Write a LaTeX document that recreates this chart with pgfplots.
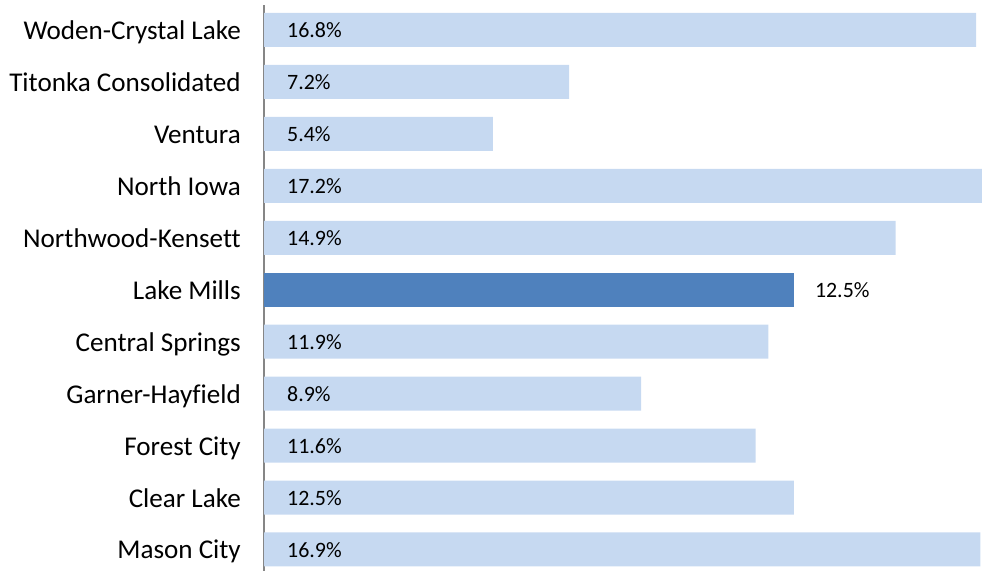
\documentclass[border=0pt]{standalone}
\usepackage{pgfplots}
\pgfplotsset{compat=1.18}
\usepackage{fontspec}
\setmainfont{Carlito}[Ligatures=CommonOff]
\definecolor{lightbar}{HTML}{C6D9F1}
\definecolor{darkbar}{HTML}{4F81BD}
\definecolor{axgray}{HTML}{868686}
\begin{document}
\begin{tikzpicture}
\useasboundingbox (0,0) rectangle (982bp,571bp);
\begin{axis}[
  at={(264bp,0bp)}, anchor=south west,
  scale only axis, width=718bp, height=566bp,
  xmin=0, xmax=16.94, ymin=-0.414, ymax=10.48,
  xbar, bar width=34bp,
  axis x line=none, axis y line*=left,
  y axis line style={draw=axgray, line width=1.6bp, -},
  ytick={0,...,10},
  yticklabels={Mason City,Clear Lake,Forest City,Garner-Hayfield,Central Springs,Lake Mills,Northwood-Kensett,North Iowa,Ventura,Titonka Consolidated,Woden-Crystal Lake},
  major tick length=0pt,
  yticklabel style={font=\fontsize{27.2}{32}\selectfont, anchor=base east, inner sep=0pt, xshift=-23bp, yshift=-9.5bp},
]
\addplot[fill=lightbar, draw=none, bar shift=0pt] coordinates {
 (16.9,0) (12.5,1) (11.6,2) (8.9,3) (11.9,4) (14.9,6) (17.2,7) (5.4,8) (7.2,9) (16.8,10)};
\addplot[fill=darkbar, draw=none, bar shift=0pt] coordinates {(12.5,5)};
\addplot[draw=none, mark=none, bar shift=0pt, nodes near coords, point meta=explicit symbolic,
  nodes near coords style={anchor=base west, inner sep=0pt, xshift=23bp, yshift=-7.8bp, font=\fontsize{22}{26}\selectfont, text=black}]
 coordinates {
 (0,0) [16.9\%] (0,1) [12.5\%] (0,2) [11.6\%] (0,3) [8.9\%] (0,4) [11.9\%]
 (0,6) [14.9\%] (0,7) [17.2\%] (0,8) [5.4\%] (0,9) [7.2\%] (0,10) [16.8\%]};
\addplot[draw=none, mark=none, bar shift=0pt, nodes near coords, point meta=explicit symbolic,
  nodes near coords style={anchor=base west, inner sep=0pt, xshift=21bp, yshift=-7.8bp, font=\fontsize{22}{26}\selectfont, text=black}]
 coordinates {(12.5,5) [12.5\%]};
\end{axis}
\end{tikzpicture}
\end{document}
